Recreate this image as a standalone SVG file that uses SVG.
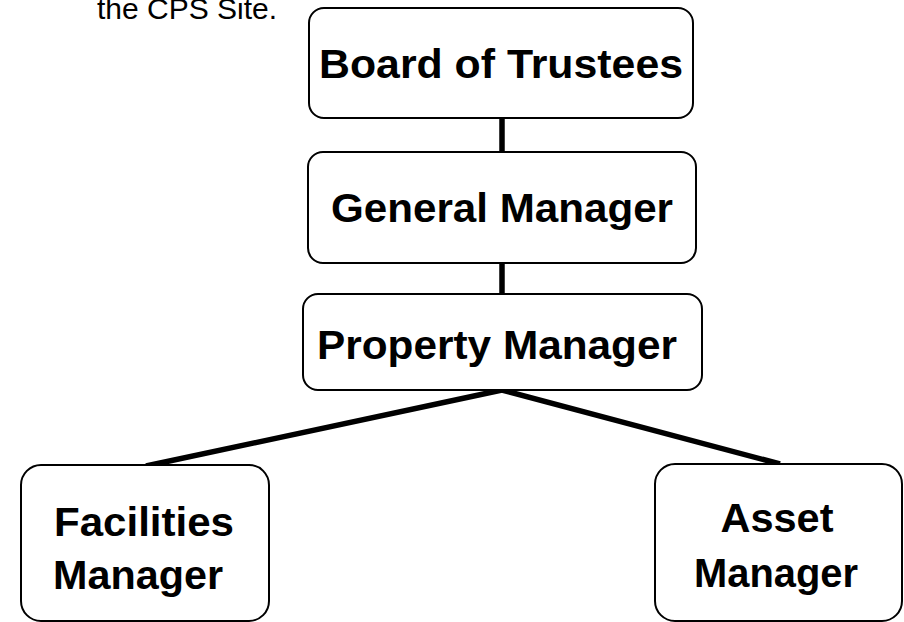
<svg xmlns="http://www.w3.org/2000/svg" width="904" height="622" viewBox="0 0 904 622">
<style>
.box{fill:#fff;stroke:#000;stroke-width:2}
.lbl{font-family:"Liberation Sans",Arial,sans-serif;font-weight:bold;font-size:40px;fill:#000;text-anchor:middle}
.cap{font-family:"Liberation Sans",Arial,sans-serif;font-size:30px;fill:#000}
.con{stroke:#000;stroke-width:5.5;fill:none;stroke-linecap:butt}
</style>
<rect width="904" height="622" fill="#fff"/>
<text class="cap" x="97" y="19">the CPS Site.</text>
<g id="connectors">
<line class="con" x1="502" y1="118" x2="502" y2="152"/>
<line class="con" x1="502" y1="263" x2="502" y2="294"/>
<line class="con" x1="502" y1="390" x2="146" y2="466"/>
<line class="con" x1="502" y1="390" x2="780" y2="464"/>
</g>
<g id="board">
<rect class="box" x="309" y="8" width="384" height="110" rx="15"/>
<text class="lbl" x="501" y="78" textLength="364" lengthAdjust="spacingAndGlyphs">Board of Trustees</text>
</g>
<g id="general">
<rect class="box" x="308" y="152" width="388" height="111" rx="15"/>
<text class="lbl" x="502" y="222" textLength="342" lengthAdjust="spacingAndGlyphs">General Manager</text>
</g>
<g id="property">
<rect class="box" x="303" y="294" width="399" height="96" rx="15"/>
<text class="lbl" x="497" y="359" textLength="360" lengthAdjust="spacingAndGlyphs">Property Manager</text>
</g>
<g id="facilities">
<rect class="box" x="21" y="465" width="248" height="156" rx="20"/>
<text class="lbl" x="144" y="536" textLength="180" lengthAdjust="spacingAndGlyphs">Facilities</text>
<text class="lbl" x="138" y="589" textLength="170" lengthAdjust="spacingAndGlyphs">Manager</text>
</g>
<g id="asset">
<rect class="box" x="655" y="464" width="247" height="157" rx="20"/>
<text class="lbl" x="777" y="532" textLength="113" lengthAdjust="spacingAndGlyphs">Asset</text>
<text class="lbl" x="776" y="587" textLength="164" lengthAdjust="spacingAndGlyphs">Manager</text>
</g>
</svg>
